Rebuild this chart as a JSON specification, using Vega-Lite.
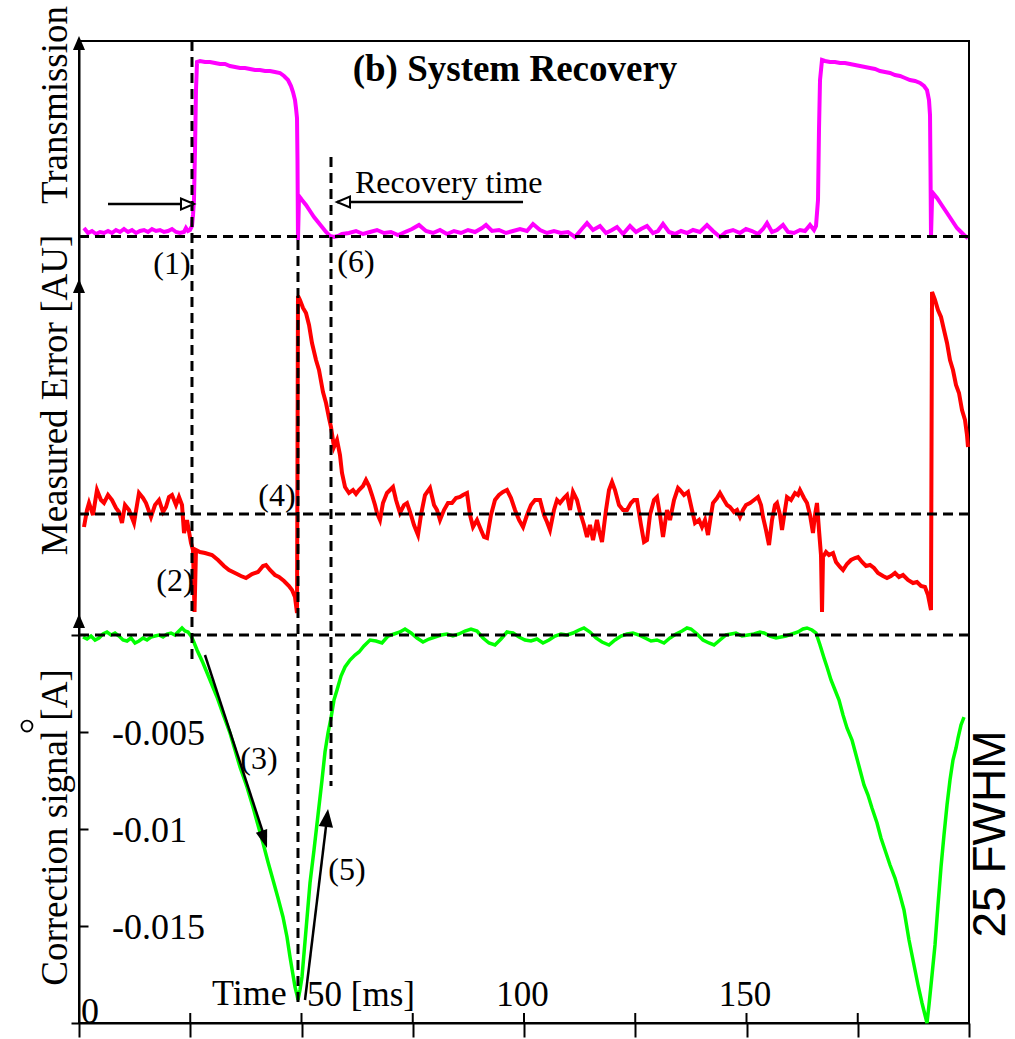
{
"$schema": "https://vega.github.io/schema/vega-lite/v6.json",
"width": 890, "height": 982,
"autosize": "none",
"padding": {"left": 79, "top": 41, "right": 46, "bottom": 16},
"background": "white",
"config": {"view": {"stroke": "black", "strokeWidth": 2}, "font": "Liberation Serif", "text": {"font": "Liberation Serif", "color": "black"}},
"datasets": {
"trans": [
{"x":1.12,"t":0.085},{"x":2.02,"t":0.035},{"x":2.92,"t":0.055},{"x":3.82,"t":0.025},{"x":4.72,"t":0.045},{"x":5.62,"t":0.035},{"x":6.52,"t":0.055},{"x":7.42,"t":0.035},{"x":8.31,"t":0.065},{"x":9.21,"t":0.045},{"x":10.11,"t":0.075},{"x":11.01,"t":0.045},{"x":11.91,"t":0.065},{"x":12.81,"t":0.035},{"x":13.71,"t":0.055},{"x":14.61,"t":0.065},{"x":15.51,"t":0.045},{"x":16.40,"t":0.075},{"x":17.30,"t":0.055},{"x":18.20,"t":0.065},{"x":19.10,"t":0.045},{"x":20.00,"t":0.055},{"x":20.90,"t":0.075},{"x":21.80,"t":0.045},{"x":22.70,"t":0.035},{"x":23.60,"t":0.045},{"x":24.04,"t":0.085},{"x":24.49,"t":0.055},{"x":24.94,"t":0.065},{"x":25.39,"t":0.105},{"x":25.62,"t":0.215},{"x":25.84,"t":0.365},{"x":26.07,"t":0.865},{"x":26.29,"t":1.465},{"x":26.52,"t":1.745},{"x":27.19,"t":1.755},{"x":28.31,"t":1.745},{"x":29.44,"t":1.745},{"x":30.56,"t":1.735},{"x":31.69,"t":1.725},{"x":32.81,"t":1.725},{"x":33.93,"t":1.705},{"x":35.06,"t":1.695},{"x":36.18,"t":1.685},{"x":37.30,"t":1.685},{"x":38.43,"t":1.675},{"x":39.55,"t":1.665},{"x":40.67,"t":1.665},{"x":41.80,"t":1.655},{"x":42.92,"t":1.655},{"x":44.04,"t":1.645},{"x":45.17,"t":1.635},{"x":46.07,"t":1.605},{"x":46.97,"t":1.565},{"x":47.64,"t":1.505},{"x":48.09,"t":1.445},{"x":48.54,"t":1.365},{"x":48.76,"t":1.285},{"x":48.99,"t":1.185},{"x":49.10,"t":0.765},{"x":49.21,"t":-0.035},{"x":49.44,"t":0.405},{"x":50.11,"t":0.365},{"x":51.01,"t":0.315},{"x":51.91,"t":0.255},{"x":52.81,"t":0.195},{"x":53.71,"t":0.145},{"x":54.61,"t":0.095},{"x":55.51,"t":0.045},{"x":56.40,"t":0.005},{"x":57.30,"t":-0.005},{"x":58.20,"t":0.005},{"x":59.10,"t":0.025},{"x":60.67,"t":0.035},{"x":62.25,"t":0.055},{"x":63.82,"t":0.025},{"x":65.39,"t":0.045},{"x":66.97,"t":0.065},{"x":68.54,"t":0.035},{"x":70.11,"t":0.045},{"x":71.69,"t":0.015},{"x":73.26,"t":0.045},{"x":74.83,"t":0.075},{"x":76.40,"t":0.115},{"x":77.98,"t":0.055},{"x":79.55,"t":0.035},{"x":81.12,"t":0.065},{"x":82.70,"t":0.025},{"x":84.27,"t":0.055},{"x":85.84,"t":0.035},{"x":87.42,"t":0.065},{"x":88.99,"t":0.045},{"x":90.56,"t":0.085},{"x":91.46,"t":0.115},{"x":92.81,"t":0.055},{"x":94.38,"t":0.065},{"x":95.96,"t":0.035},{"x":97.53,"t":0.055},{"x":99.10,"t":0.075},{"x":100.67,"t":0.055},{"x":102.02,"t":0.125},{"x":103.60,"t":0.065},{"x":105.17,"t":0.035},{"x":106.74,"t":0.055},{"x":108.31,"t":0.035},{"x":109.89,"t":0.045},{"x":111.46,"t":-0.005},{"x":112.81,"t":0.065},{"x":114.16,"t":0.135},{"x":115.51,"t":0.065},{"x":117.08,"t":0.105},{"x":118.43,"t":0.035},{"x":119.78,"t":0.065},{"x":120.90,"t":0.095},{"x":122.25,"t":0.025},{"x":123.82,"t":0.105},{"x":125.17,"t":0.045},{"x":126.29,"t":0.075},{"x":127.64,"t":0.105},{"x":128.99,"t":0.035},{"x":130.11,"t":0.055},{"x":131.24,"t":0.125},{"x":132.58,"t":0.045},{"x":133.93,"t":0.025},{"x":135.28,"t":0.055},{"x":136.63,"t":0.035},{"x":137.98,"t":0.065},{"x":139.55,"t":0.045},{"x":141.12,"t":0.115},{"x":142.47,"t":0.055},{"x":144.04,"t":-0.005},{"x":145.39,"t":0.045},{"x":146.97,"t":0.065},{"x":148.54,"t":0.035},{"x":149.89,"t":0.075},{"x":151.24,"t":0.055},{"x":152.58,"t":0.025},{"x":153.71,"t":0.075},{"x":154.61,"t":0.135},{"x":155.73,"t":0.045},{"x":156.85,"t":0.065},{"x":158.20,"t":0.115},{"x":159.33,"t":0.045},{"x":160.67,"t":0.035},{"x":162.02,"t":0.065},{"x":163.15,"t":0.055},{"x":164.27,"t":0.115},{"x":165.17,"t":0.065},{"x":165.62,"t":0.105},{"x":166.07,"t":0.365},{"x":166.29,"t":1.065},{"x":166.52,"t":1.565},{"x":166.97,"t":1.765},{"x":167.64,"t":1.755},{"x":168.76,"t":1.745},{"x":169.89,"t":1.745},{"x":171.01,"t":1.735},{"x":172.13,"t":1.735},{"x":173.26,"t":1.725},{"x":174.38,"t":1.715},{"x":175.51,"t":1.705},{"x":176.63,"t":1.695},{"x":177.75,"t":1.685},{"x":178.88,"t":1.675},{"x":180.00,"t":1.655},{"x":181.12,"t":1.645},{"x":182.25,"t":1.635},{"x":183.37,"t":1.615},{"x":184.49,"t":1.605},{"x":185.62,"t":1.585},{"x":186.74,"t":1.565},{"x":187.87,"t":1.555},{"x":188.99,"t":1.535},{"x":189.89,"t":1.505},{"x":190.56,"t":1.465},{"x":191.01,"t":1.365},{"x":191.24,"t":1.215},{"x":191.35,"t":0.665},{"x":191.46,"t":-0.005},{"x":191.69,"t":0.365},{"x":191.91,"t":0.435},{"x":192.81,"t":0.385},{"x":193.71,"t":0.325},{"x":194.61,"t":0.265},{"x":195.51,"t":0.205},{"x":196.40,"t":0.145},{"x":197.30,"t":0.085},{"x":198.20,"t":0.045},{"x":199.10,"t":0.005},{"x":199.78,"t":-0.015}
],
"err": [
{"x":1.12,"e":-0.13},{"x":1.80,"e":0.04},{"x":2.25,"e":0.11},{"x":3.15,"e":-0.01},{"x":4.04,"e":0.24},{"x":4.94,"e":0.14},{"x":5.62,"e":0.11},{"x":6.52,"e":0.19},{"x":7.42,"e":0.14},{"x":8.31,"e":0.06},{"x":8.99,"e":0.02},{"x":9.66,"e":-0.09},{"x":10.34,"e":0.09},{"x":11.24,"e":0.04},{"x":12.36,"e":-0.09},{"x":13.03,"e":0.09},{"x":13.48,"e":0.21},{"x":14.38,"e":0.16},{"x":15.06,"e":0.11},{"x":16.18,"e":-0.03},{"x":17.08,"e":0.09},{"x":17.98,"e":0.14},{"x":18.88,"e":0.02},{"x":19.55,"e":0.07},{"x":20.22,"e":0.17},{"x":20.90,"e":0.19},{"x":21.80,"e":0.09},{"x":22.47,"e":0.17},{"x":23.15,"e":0.09},{"x":23.60,"e":-0.19},{"x":24.27,"e":-0.06},{"x":25.17,"e":-0.29},{"x":25.62,"e":-0.36},{"x":25.96,"e":-0.98},{"x":26.29,"e":-0.36},{"x":27.19,"e":-0.38},{"x":28.31,"e":-0.39},{"x":29.89,"e":-0.41},{"x":31.24,"e":-0.46},{"x":32.58,"e":-0.52},{"x":33.71,"e":-0.56},{"x":35.06,"e":-0.59},{"x":36.40,"e":-0.62},{"x":37.53,"e":-0.64},{"x":38.88,"e":-0.60},{"x":40.22,"e":-0.58},{"x":41.35,"e":-0.52},{"x":42.02,"e":-0.51},{"x":42.92,"e":-0.56},{"x":44.04,"e":-0.61},{"x":44.94,"e":-0.63},{"x":46.07,"e":-0.67},{"x":47.19,"e":-0.72},{"x":47.87,"e":-0.76},{"x":48.54,"e":-0.83},{"x":48.99,"e":-0.99},{"x":49.21,"e":2.18},{"x":49.66,"e":2.14},{"x":50.34,"e":2.06},{"x":51.01,"e":2.01},{"x":51.69,"e":1.89},{"x":52.36,"e":1.71},{"x":53.26,"e":1.54},{"x":53.93,"e":1.44},{"x":54.83,"e":1.22},{"x":55.51,"e":1.11},{"x":56.18,"e":0.96},{"x":56.63,"e":0.87},{"x":57.30,"e":0.67},{"x":57.98,"e":0.74},{"x":58.65,"e":0.59},{"x":59.10,"e":0.41},{"x":59.78,"e":0.27},{"x":60.67,"e":0.21},{"x":61.57,"e":0.24},{"x":62.25,"e":0.20},{"x":62.92,"e":0.24},{"x":63.82,"e":0.28},{"x":64.49,"e":0.34},{"x":65.17,"e":0.28},{"x":65.84,"e":0.19},{"x":66.52,"e":0.09},{"x":66.97,"e":0.01},{"x":67.64,"e":-0.06},{"x":68.31,"e":0.11},{"x":69.21,"e":0.21},{"x":69.89,"e":0.24},{"x":70.56,"e":0.27},{"x":71.24,"e":0.14},{"x":72.13,"e":0.01},{"x":73.03,"e":0.09},{"x":73.71,"e":0.11},{"x":74.61,"e":-0.01},{"x":75.28,"e":-0.11},{"x":76.18,"e":-0.21},{"x":76.85,"e":-0.01},{"x":77.75,"e":0.19},{"x":78.88,"e":0.26},{"x":79.78,"e":0.09},{"x":80.45,"e":0.04},{"x":81.12,"e":-0.06},{"x":82.02,"e":0.04},{"x":82.92,"e":0.11},{"x":83.82,"e":0.11},{"x":84.72,"e":0.16},{"x":85.62,"e":0.17},{"x":86.29,"e":0.19},{"x":87.19,"e":0.21},{"x":87.87,"e":-0.01},{"x":88.54,"e":-0.13},{"x":89.44,"e":-0.06},{"x":90.34,"e":-0.16},{"x":91.01,"e":-0.23},{"x":91.69,"e":-0.24},{"x":92.58,"e":-0.01},{"x":93.48,"e":0.14},{"x":94.38,"e":0.19},{"x":95.28,"e":0.22},{"x":96.18,"e":0.24},{"x":97.08,"e":0.16},{"x":97.98,"e":0.04},{"x":98.88,"e":-0.06},{"x":99.78,"e":-0.13},{"x":100.67,"e":-0.01},{"x":101.57,"e":0.09},{"x":102.47,"e":0.14},{"x":103.60,"e":0.14},{"x":104.49,"e":-0.01},{"x":105.17,"e":-0.08},{"x":105.84,"e":-0.16},{"x":106.74,"e":0.04},{"x":107.42,"e":0.14},{"x":108.09,"e":0.11},{"x":108.99,"e":0.16},{"x":109.66,"e":0.19},{"x":110.34,"e":0.04},{"x":111.01,"e":0.22},{"x":111.91,"e":0.14},{"x":112.58,"e":0.02},{"x":113.48,"e":-0.11},{"x":114.16,"e":-0.23},{"x":114.83,"e":-0.11},{"x":115.51,"e":-0.26},{"x":116.40,"e":-0.06},{"x":116.85,"e":-0.16},{"x":117.53,"e":-0.28},{"x":118.43,"e":0.04},{"x":119.10,"e":0.24},{"x":119.78,"e":0.32},{"x":120.45,"e":0.24},{"x":121.35,"e":0.09},{"x":122.25,"e":0.04},{"x":123.15,"e":0.04},{"x":124.04,"e":0.11},{"x":124.72,"e":0.14},{"x":125.39,"e":0.14},{"x":126.29,"e":-0.11},{"x":126.97,"e":-0.28},{"x":127.64,"e":-0.26},{"x":128.31,"e":-0.01},{"x":129.21,"e":0.14},{"x":129.89,"e":0.17},{"x":130.56,"e":-0.01},{"x":131.24,"e":-0.23},{"x":132.13,"e":0.04},{"x":132.81,"e":-0.06},{"x":133.71,"e":0.14},{"x":134.61,"e":0.26},{"x":135.06,"e":0.24},{"x":135.96,"e":0.19},{"x":136.85,"e":0.22},{"x":137.75,"e":0.04},{"x":138.43,"e":-0.09},{"x":139.33,"e":-0.06},{"x":140.00,"e":-0.13},{"x":140.67,"e":-0.06},{"x":141.35,"e":-0.21},{"x":142.02,"e":-0.01},{"x":142.47,"e":0.11},{"x":143.37,"e":0.16},{"x":144.04,"e":0.21},{"x":144.94,"e":0.14},{"x":145.62,"e":0.09},{"x":146.29,"e":0.07},{"x":147.19,"e":0.02},{"x":147.87,"e":0.04},{"x":148.54,"e":-0.03},{"x":149.21,"e":0.04},{"x":149.89,"e":0.09},{"x":150.79,"e":0.11},{"x":151.69,"e":0.14},{"x":152.58,"e":0.17},{"x":153.26,"e":0.09},{"x":153.71,"e":-0.03},{"x":154.38,"e":-0.16},{"x":155.06,"e":-0.31},{"x":155.73,"e":-0.06},{"x":156.40,"e":0.09},{"x":156.85,"e":0.11},{"x":157.53,"e":-0.01},{"x":157.98,"e":-0.16},{"x":158.65,"e":0.04},{"x":159.10,"e":0.17},{"x":160.00,"e":0.14},{"x":160.90,"e":0.21},{"x":161.57,"e":0.19},{"x":162.02,"e":0.24},{"x":162.92,"e":0.16},{"x":163.60,"e":0.11},{"x":164.27,"e":-0.01},{"x":164.94,"e":-0.19},{"x":165.39,"e":-0.01},{"x":165.84,"e":0.11},{"x":166.29,"e":-0.16},{"x":166.74,"e":-0.41},{"x":166.97,"e":-0.98},{"x":167.19,"e":-0.43},{"x":167.87,"e":-0.38},{"x":168.54,"e":-0.41},{"x":169.44,"e":-0.39},{"x":170.11,"e":-0.48},{"x":171.01,"e":-0.53},{"x":171.69,"e":-0.56},{"x":172.58,"e":-0.50},{"x":173.48,"e":-0.46},{"x":174.38,"e":-0.44},{"x":175.06,"e":-0.43},{"x":175.96,"e":-0.48},{"x":176.85,"e":-0.52},{"x":177.75,"e":-0.51},{"x":178.65,"e":-0.54},{"x":179.55,"e":-0.59},{"x":180.67,"e":-0.62},{"x":181.57,"e":-0.64},{"x":182.47,"e":-0.62},{"x":183.37,"e":-0.59},{"x":184.27,"e":-0.63},{"x":185.17,"e":-0.61},{"x":186.29,"e":-0.66},{"x":187.42,"e":-0.69},{"x":188.31,"e":-0.68},{"x":189.21,"e":-0.72},{"x":190.11,"e":-0.73},{"x":190.79,"e":-0.81},{"x":191.46,"e":-0.96},{"x":191.69,"e":2.22},{"x":192.36,"e":2.14},{"x":193.03,"e":2.04},{"x":193.71,"e":1.97},{"x":194.38,"e":1.84},{"x":195.06,"e":1.71},{"x":195.73,"e":1.54},{"x":196.40,"e":1.44},{"x":197.08,"e":1.29},{"x":197.75,"e":1.21},{"x":198.43,"e":1.04},{"x":199.10,"e":0.94},{"x":199.55,"e":0.79},{"x":199.78,"e":0.67}
],
"corr": [
{"x":0.90,"c":-0.000103},{"x":1.80,"c":-0.000206},{"x":2.70,"c":-0.000052},{"x":3.60,"c":-0.000258},{"x":4.49,"c":-0.000155},{"x":5.39,"c":0.000052},{"x":6.29,"c":0.000155},{"x":7.19,"c":0},{"x":8.09,"c":0.000103},{"x":8.99,"c":-0.000052},{"x":9.89,"c":-0.000258},{"x":10.79,"c":-0.000309},{"x":11.69,"c":-0.000155},{"x":12.58,"c":-0.000412},{"x":13.48,"c":-0.000309},{"x":14.38,"c":-0.000155},{"x":15.28,"c":-0.000258},{"x":16.18,"c":-0.000103},{"x":17.08,"c":-0.000052},{"x":17.98,"c":0},{"x":18.88,"c":-0.000103},{"x":19.78,"c":0.000052},{"x":20.67,"c":0.000103},{"x":21.57,"c":0},{"x":22.47,"c":0.000206},{"x":23.15,"c":0.000361},{"x":23.82,"c":0.000206},{"x":24.49,"c":0.000155},{"x":25.17,"c":-0.000052},{"x":25.62,"c":-0.000258},{"x":26.52,"c":-0.000773},{"x":27.87,"c":-0.001443},{"x":29.44,"c":-0.00232},{"x":31.01,"c":-0.003196},{"x":32.36,"c":-0.004072},{"x":33.93,"c":-0.005052},{"x":35.06,"c":-0.005928},{"x":36.18,"c":-0.006804},{"x":37.75,"c":-0.007835},{"x":39.10,"c":-0.008866},{"x":40.22,"c":-0.009794},{"x":41.35,"c":-0.010722},{"x":42.47,"c":-0.011701},{"x":43.60,"c":-0.012629},{"x":44.72,"c":-0.013557},{"x":45.84,"c":-0.014536},{"x":46.74,"c":-0.015567},{"x":47.42,"c":-0.016598},{"x":48.09,"c":-0.017526},{"x":48.54,"c":-0.018144},{"x":48.99,"c":-0.018557},{"x":49.21,"c":-0.018814},{"x":49.66,"c":-0.018299},{"x":50.11,"c":-0.017629},{"x":51.01,"c":-0.015206},{"x":51.91,"c":-0.012784},{"x":52.81,"c":-0.011082},{"x":53.71,"c":-0.009278},{"x":54.61,"c":-0.007474},{"x":55.28,"c":-0.006031},{"x":55.96,"c":-0.005052},{"x":56.63,"c":-0.004278},{"x":57.30,"c":-0.003351},{"x":57.98,"c":-0.002835},{"x":58.88,"c":-0.002113},{"x":59.78,"c":-0.001649},{"x":60.90,"c":-0.001289},{"x":62.02,"c":-0.001031},{"x":62.92,"c":-0.000876},{"x":64.04,"c":-0.000567},{"x":65.39,"c":-0.000258},{"x":66.74,"c":-0.000309},{"x":68.09,"c":-0.000412},{"x":69.44,"c":-0.000052},{"x":70.79,"c":0.000052},{"x":72.13,"c":0.000155},{"x":73.26,"c":0.000309},{"x":74.61,"c":0.000103},{"x":75.96,"c":-0.000155},{"x":77.30,"c":-0.000361},{"x":78.65,"c":-0.000206},{"x":80.00,"c":-0.000103},{"x":81.35,"c":0},{"x":82.70,"c":0.000052},{"x":84.04,"c":-0.000052},{"x":85.39,"c":0.000052},{"x":86.74,"c":0.000206},{"x":88.09,"c":0.000309},{"x":89.44,"c":0.000206},{"x":90.79,"c":-0.000155},{"x":92.13,"c":-0.000412},{"x":93.48,"c":-0.000515},{"x":94.83,"c":-0.000206},{"x":96.18,"c":0.000155},{"x":97.53,"c":0.000103},{"x":98.88,"c":-0.000103},{"x":100.22,"c":-0.000258},{"x":101.57,"c":-0.000309},{"x":102.92,"c":-0.000206},{"x":104.27,"c":-0.000412},{"x":105.62,"c":-0.000258},{"x":106.97,"c":-0.000052},{"x":108.31,"c":0.000052},{"x":109.66,"c":0},{"x":111.01,"c":0.000103},{"x":112.36,"c":0.000258},{"x":113.48,"c":0.000361},{"x":114.83,"c":0.000155},{"x":116.18,"c":-0.000155},{"x":117.53,"c":-0.000361},{"x":119.10,"c":-0.000515},{"x":120.45,"c":-0.000258},{"x":121.80,"c":-0.000052},{"x":123.15,"c":0.000052},{"x":124.49,"c":0.000103},{"x":125.84,"c":0},{"x":127.19,"c":-0.000155},{"x":128.54,"c":-0.000309},{"x":129.89,"c":-0.000258},{"x":131.46,"c":-0.000412},{"x":132.81,"c":-0.000155},{"x":134.16,"c":0.000052},{"x":135.51,"c":0.000206},{"x":136.63,"c":0.000361},{"x":137.53,"c":0.000309},{"x":138.88,"c":0.000052},{"x":140.22,"c":-0.000258},{"x":141.57,"c":-0.000412},{"x":142.70,"c":-0.000515},{"x":144.04,"c":-0.000258},{"x":145.39,"c":0},{"x":146.52,"c":0.000052},{"x":147.64,"c":0.000103},{"x":148.99,"c":-0.000052},{"x":150.34,"c":0},{"x":151.69,"c":0.000052},{"x":153.03,"c":0.000155},{"x":153.93,"c":0.000103},{"x":155.28,"c":-0.000052},{"x":156.63,"c":-0.000155},{"x":157.75,"c":-0.000103},{"x":158.88,"c":-0.000052},{"x":160.22,"c":0.000052},{"x":161.57,"c":0.000155},{"x":162.70,"c":0.000309},{"x":163.60,"c":0.000361},{"x":164.72,"c":0.000258},{"x":165.62,"c":0.000103},{"x":166.52,"c":-0.000515},{"x":167.42,"c":-0.001186},{"x":168.09,"c":-0.001649},{"x":168.99,"c":-0.00232},{"x":169.89,"c":-0.002835},{"x":170.79,"c":-0.003351},{"x":171.69,"c":-0.004124},{"x":172.58,"c":-0.004794},{"x":173.71,"c":-0.005412},{"x":174.61,"c":-0.006186},{"x":175.51,"c":-0.006959},{"x":176.40,"c":-0.007732},{"x":177.30,"c":-0.008247},{"x":178.20,"c":-0.008918},{"x":179.33,"c":-0.009691},{"x":180.22,"c":-0.010464},{"x":181.35,"c":-0.011237},{"x":182.25,"c":-0.011856},{"x":183.37,"c":-0.012526},{"x":184.49,"c":-0.013402},{"x":185.39,"c":-0.014175},{"x":186.52,"c":-0.015722},{"x":187.64,"c":-0.01701},{"x":188.54,"c":-0.018041},{"x":189.44,"c":-0.018969},{"x":190.11,"c":-0.019588},{"x":190.56,"c":-0.02},{"x":191.01,"c":-0.019072},{"x":191.69,"c":-0.017526},{"x":192.36,"c":-0.015979},{"x":193.03,"c":-0.013918},{"x":193.71,"c":-0.011959},{"x":194.38,"c":-0.010309},{"x":195.06,"c":-0.008763},{"x":195.73,"c":-0.007474},{"x":196.40,"c":-0.006443},{"x":197.08,"c":-0.005825},{"x":197.53,"c":-0.005309},{"x":198.20,"c":-0.004639},{"x":198.88,"c":-0.004227}
]
},
"layer": [
{"data": {"name": "trans"}, "mark": {"type": "line", "color": "#ff00ff", "strokeWidth": 4},
 "encoding": {
  "x": {"field": "x", "type": "quantitative", "scale": {"domain": [0, 200], "nice": false, "zero": false},
   "axis": {"values": [0, 25, 50, 75, 100, 125, 150, 175, 200], "title": null, "grid": false, "domainColor": "black", "domainWidth": 2, "ticks": true, "tickSize": 14, "tickWidth": 2, "tickColor": "black",
    "labelExpr": "datum.value == 50 ? '50 [ms]' : ((datum.value == 100 || datum.value == 150) ? datum.label : '')",
    "labelFont": "Liberation Serif", "labelFontSize": 35, "labelColor": "black", "labelBaseline": "alphabetic", "labelPadding": -32,
    "labelAlign": {"condition": {"test": "datum.value == 50", "value": "left"}, "value": "center"},
    "labelOffset": {"condition": {"test": "datum.value == 50", "value": 5}, "value": -2},
    "labelOverlap": false, "labelFlush": false, "labelBound": false}},
  "y": {"field": "t", "type": "quantitative", "scale": {"domain": [-7.865, 1.955], "nice": false, "zero": false}, "axis": null}}},
{"data": {"name": "err"}, "mark": {"type": "line", "color": "#ff0000", "strokeWidth": 4},
 "encoding": {
  "x": {"field": "x", "type": "quantitative"},
  "y": {"field": "e", "type": "quantitative", "scale": {"domain": [-5.09, 4.73], "nice": false, "zero": false}, "axis": null}}},
{"data": {"name": "corr"}, "mark": {"type": "line", "color": "#00ff00", "strokeWidth": 3.5},
 "encoding": {
  "x": {"field": "x", "type": "quantitative"},
  "y": {"field": "c", "type": "quantitative", "scale": {"domain": [-0.02, 0.030619], "nice": false, "zero": false},
   "axis": {"values": [0, -0.005, -0.01, -0.015, -0.02], "title": null, "labels": false, "grid": false, "domainColor": "black", "domainWidth": 2, "tickColor": "black", "tickWidth": 2,
    "tickSize": {"condition": {"test": "datum.value == 0 || datum.value < -0.019", "value": 8}, "value": -9}}}}},
{"data": {"values": [{"t": 0}]}, "mark": {"type": "rule", "color": "black", "strokeWidth": 3, "strokeDash": [10, 6]},
 "encoding": {"y": {"field": "t", "type": "quantitative", "scale": {"domain": [-7.865, 1.955], "nice": false, "zero": false}, "axis": null}}},
{"data": {"values": [{"e": 0}]}, "mark": {"type": "rule", "color": "black", "strokeWidth": 3, "strokeDash": [10, 6]},
 "encoding": {"y": {"field": "e", "type": "quantitative", "scale": {"domain": [-5.09, 4.73], "nice": false, "zero": false}, "axis": null}}},
{"data": {"values": [{"c": 0}]}, "mark": {"type": "rule", "color": "black", "strokeWidth": 3, "strokeDash": [10, 6]},
 "encoding": {"y": {"field": "c", "type": "quantitative", "scale": {"domain": [-0.02, 0.030619], "nice": false, "zero": false}, "axis": null}}},
{"data": {"values": [{"x": 25.39, "c": 0.030619, "c2": -0.001546}, {"x": 49.21, "c": 0.020361, "c2": -0.019072}, {"x": 56.63, "c": 0.024639, "c2": -0.007784}]},
 "mark": {"type": "rule", "color": "black", "strokeWidth": 3, "strokeDash": [10, 6]},
 "encoding": {"x": {"field": "x", "type": "quantitative"},
  "y": {"field": "c", "type": "quantitative", "scale": {"domain": [-0.02, 0.030619], "nice": false, "zero": false}, "axis": null},
  "y2": {"field": "c2"}}},
{"data": {"values": [{"x": 6.52, "c": 0.022216, "x2": 25.84, "c2": 0.022216}, {"x": 99.78, "c": 0.02232, "x2": 57.98, "c2": 0.02232}, {"x": 28.31, "c": -0.001031, "x2": 41.8, "c2": -0.0105}, {"x": 50.79, "c": -0.018814, "x2": 55.7, "c2": -0.0095}]},
 "mark": {"type": "rule", "color": "black", "strokeWidth": 2.5},
 "encoding": {"x": {"field": "x", "type": "quantitative"}, "x2": {"field": "x2"},
  "y": {"field": "c", "type": "quantitative", "scale": {"domain": [-0.02, 0.030619], "nice": false, "zero": false}, "axis": null},
  "y2": {"field": "c2"}}},
{"data": {"values": [{"x": 25.84, "c": 0.022216}]},
 "mark": {"type": "point", "shape": "M0,0L-0.42,1L0.42,1Z", "size": 676, "angle": 90, "filled": true, "fill": "white", "stroke": "black", "strokeWidth": 2, "opacity": 1},
 "encoding": {"x": {"field": "x", "type": "quantitative"}, "y": {"field": "c", "type": "quantitative", "scale": {"domain": [-0.02, 0.030619], "nice": false, "zero": false}, "axis": null}}},
{"data": {"values": [{"x": 57.98, "c": 0.02232}]},
 "mark": {"type": "point", "shape": "M0,0L-0.42,1L0.42,1Z", "size": 676, "angle": 270, "filled": true, "fill": "white", "stroke": "black", "strokeWidth": 2, "opacity": 1},
 "encoding": {"x": {"field": "x", "type": "quantitative"}, "y": {"field": "c", "type": "quantitative", "scale": {"domain": [-0.02, 0.030619], "nice": false, "zero": false}, "axis": null}}},
{"data": {"values": [{"x": 42.25, "c": -0.010979}]},
 "mark": {"type": "point", "shape": "M0,0L-0.33,1L0.33,1Z", "size": 1296, "angle": 162.2, "filled": true, "color": "black", "opacity": 1},
 "encoding": {"x": {"field": "x", "type": "quantitative"}, "y": {"field": "c", "type": "quantitative", "scale": {"domain": [-0.02, 0.030619], "nice": false, "zero": false}, "axis": null}}},
{"data": {"values": [{"x": 55.96, "c": -0.008969}]},
 "mark": {"type": "point", "shape": "M0,0L-0.4,1L0.4,1Z", "size": 1296, "angle": 6.9, "filled": true, "color": "black", "opacity": 1},
 "encoding": {"x": {"field": "x", "type": "quantitative"}, "y": {"field": "c", "type": "quantitative", "scale": {"domain": [-0.02, 0.030619], "nice": false, "zero": false}, "axis": null}}},
{"data": {"values": [{"x": 0, "c": 0.030876}, {"x": 0, "c": 0.018351}, {"x": 0, "c": 0.001082}]},
 "mark": {"type": "point", "shape": "M0,0L-0.43,1L0.43,1Z", "size": 784, "filled": true, "color": "black", "opacity": 1},
 "encoding": {"x": {"field": "x", "type": "quantitative"}, "y": {"field": "c", "type": "quantitative", "scale": {"domain": [-0.02, 0.030619], "nice": false, "zero": false}, "axis": null}}},
{"data": {"values": [{"x": 25}, {"x": 50}, {"x": 75}, {"x": 100}, {"x": 125}, {"x": 150}, {"x": 175}]},
 "mark": {"type": "rule", "color": "black", "strokeWidth": 2},
 "encoding": {"x": {"field": "x", "type": "quantitative"},
  "y": {"datum": -0.02, "type": "quantitative", "scale": {"domain": [-0.02, 0.030619], "nice": false, "zero": false}, "axis": null},
  "y2": {"datum": -0.019485}}},
{"data": {"values": [{"x": 20.9, "c": 0.019124, "label": "(1)"}, {"x": 62.25, "c": 0.019227, "label": "(6)"}, {"x": 21.57, "c": 0.002784, "label": "(2)"}, {"x": 44.49, "c": 0.007165, "label": "(4)"}, {"x": 40.45, "c": -0.006392, "label": "(3)"}, {"x": 60.22, "c": -0.012113, "label": "(5)"}]},
 "mark": {"type": "text", "font": "Liberation Serif", "fontSize": 32, "align": "center", "baseline": "middle", "color": "black"},
 "encoding": {"x": {"field": "x", "type": "quantitative"}, "y": {"field": "c", "type": "quantitative", "scale": {"domain": [-0.02, 0.030619], "nice": false, "zero": false}, "axis": null}, "text": {"field": "label"}}},
{"data": {"values": [{"x": 62.02, "c": 0.022784, "label": "Recovery time"}]},
 "mark": {"type": "text", "font": "Liberation Serif", "fontSize": 32, "align": "left", "baseline": "alphabetic", "color": "black"},
 "encoding": {"x": {"field": "x", "type": "quantitative"}, "y": {"field": "c", "type": "quantitative", "scale": {"domain": [-0.02, 0.030619], "nice": false, "zero": false}, "axis": null}, "text": {"field": "label"}}},
{"data": {"values": [{"x": 97.98, "c": 0.028557, "label": "(b) System Recovery"}]},
 "mark": {"type": "text", "font": "Liberation Serif", "fontSize": 37, "fontWeight": "bold", "align": "center", "baseline": "alphabetic", "color": "black"},
 "encoding": {"x": {"field": "x", "type": "quantitative"}, "y": {"field": "c", "type": "quantitative", "scale": {"domain": [-0.02, 0.030619], "nice": false, "zero": false}, "axis": null}, "text": {"field": "label"}}},
{"data": {"values": [{"x": 29.89, "c": -0.019072, "label": "Time"}, {"x": 0.45, "c": -0.02, "label": "0"}]},
 "mark": {"type": "text", "font": "Liberation Serif", "fontSize": 36, "align": "left", "baseline": "alphabetic", "color": "black"},
 "encoding": {"x": {"field": "x", "type": "quantitative"}, "y": {"field": "c", "type": "quantitative", "scale": {"domain": [-0.02, 0.030619], "nice": false, "zero": false}, "axis": null}, "text": {"field": "label"}}},
{"data": {"values": [{"c": -0.005, "label": "-0.005"}, {"c": -0.01, "label": "-0.01"}, {"c": -0.015, "label": "-0.015"}]},
 "mark": {"type": "text", "font": "Liberation Serif", "fontSize": 36, "align": "left", "baseline": "middle", "dy": 2, "color": "black"},
 "encoding": {"x": {"datum": 7.42, "type": "quantitative"}, "y": {"field": "c", "type": "quantitative", "scale": {"domain": [-0.02, 0.030619], "nice": false, "zero": false}, "axis": null}, "text": {"field": "label"}}},
{"data": {"values": [{"x": -2.7, "c": 0.02732, "label": "Transmission"}, {"x": -2.7, "c": 0.012371, "label": "Measured Error [AU]"}, {"x": -2.7, "c": -0.009923, "label": "Correction signal [A]"}]},
 "mark": {"type": "text", "font": "Liberation Serif", "fontSize": 37, "angle": 270, "align": "center", "baseline": "alphabetic", "color": "black"},
 "encoding": {"x": {"field": "x", "type": "quantitative"}, "y": {"field": "c", "type": "quantitative", "scale": {"domain": [-0.02, 0.030619], "nice": false, "zero": false}, "axis": null}, "text": {"field": "label"}}},
{"data": {"values": [{"x": 208.2, "c": -0.010258, "label": "25 FWHM"}]},
 "mark": {"type": "text", "font": "Liberation Sans", "fontSize": 46, "angle": 270, "align": "center", "baseline": "alphabetic", "color": "black"},
 "encoding": {"x": {"field": "x", "type": "quantitative"}, "y": {"field": "c", "type": "quantitative", "scale": {"domain": [-0.02, 0.030619], "nice": false, "zero": false}, "axis": null}, "text": {"field": "label"}}},
{"data": {"values": [{"x": -11.69, "c": -0.004691}]},
 "mark": {"type": "point", "shape": "circle", "size": 120, "filled": false, "stroke": "black", "strokeWidth": 1.8, "opacity": 1},
 "encoding": {"x": {"field": "x", "type": "quantitative"}, "y": {"field": "c", "type": "quantitative", "scale": {"domain": [-0.02, 0.030619], "nice": false, "zero": false}, "axis": null}}}
],
"resolve": {"scale": {"y": "independent"}}
}
